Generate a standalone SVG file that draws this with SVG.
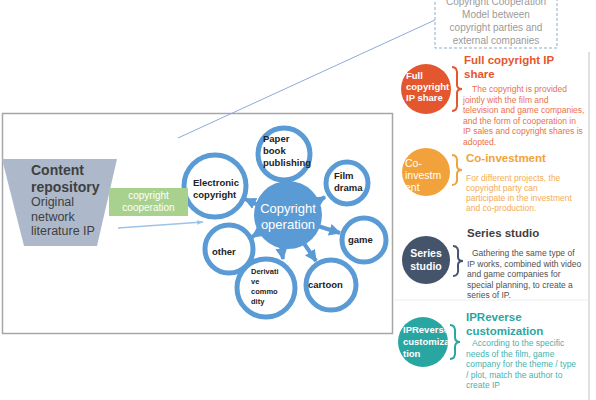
<svg xmlns="http://www.w3.org/2000/svg" width="596" height="400" viewBox="0 0 596 400">
<defs>
<style>
text{font-family:"Liberation Sans","Noto Sans",Arial,sans-serif}
.ring{fill:#fff;stroke:#5b9bd5;stroke-width:5}
.rt{font-size:9.5px;font-weight:bold;fill:#222}
.arr{stroke:#5b9bd5;stroke-width:4;fill:none;marker-end:url(#ah)}
.ct{fill:#fff;font-weight:bold;font-size:9.5px}
.body{font-size:8.5px}
.ttl{font-size:11.5px;font-weight:bold}
</style>
<marker id="ah" viewBox="0 0 10 10" refX="9" refY="5" markerWidth="3" markerHeight="3" orient="auto">
<path d="M0,0L10,5L0,10Z" fill="#5b9bd5"/>
</marker>
<marker id="ah2" viewBox="0 0 10 10" refX="9" refY="5" markerWidth="5" markerHeight="5" orient="auto">
<path d="M0,1.5L10,5L0,8.5Z" fill="#9dc3e6"/>
</marker>
<clipPath id="c1"><circle cx="426" cy="89" r="25"/></clipPath>
<clipPath id="c2"><circle cx="426" cy="172" r="24"/></clipPath>
<clipPath id="c4"><circle cx="423" cy="342" r="25"/></clipPath>
</defs>
<rect width="596" height="400" fill="#fff"/>

<!-- page decoration lines -->
<line x1="589" y1="52" x2="589" y2="400" stroke="#d6d6d6" stroke-width="1.5"/>
<line x1="394" y1="300" x2="589" y2="300" stroke="#ececec" stroke-width="1"/>

<!-- main frame -->
<rect x="2.5" y="113.5" width="390" height="220" fill="#fff" stroke="#a6a6a6" stroke-width="1.5"/>

<g id="connectors">
<line x1="178" y1="138" x2="435" y2="20" stroke="#8eaadb" stroke-width="1"/>
<line x1="118" y1="228" x2="203" y2="222" stroke="#9dc3e6" stroke-width="1.3" marker-end="url(#ah2)"/>
<line class="arr" x1="258" y1="205" x2="245" y2="199"/>
<line class="arr" x1="290" y1="192" x2="290" y2="181"/>
<line class="arr" x1="313" y1="204" x2="325" y2="197"/>
<line class="arr" x1="318" y1="226" x2="340" y2="233"/>
<line class="arr" x1="303" y1="242" x2="316" y2="261"/>
<line class="arr" x1="281" y1="246" x2="283" y2="259"/>
<line class="arr" x1="261" y1="231" x2="252" y2="237"/>
</g>

<g id="model-box">
<rect x="435" y="-5" width="122" height="53" fill="#fff" stroke="#8ea9c8" stroke-width="1" stroke-dasharray="3,2"/>
<g font-size="10" fill="#9a9a9a" text-anchor="middle">
<text x="496" y="5">Copyright Cooperation</text>
<text x="496" y="18">Model between</text>
<text x="496" y="31">copyright parties and</text>
<text x="496" y="44">external companies</text>
</g>
</g>

<g id="content-repository">
<path d="M2,159L117,159L97,246L24,246Z" fill="#adb9ca"/>
<g fill="#404040">
<text x="31" y="175" font-size="14" font-weight="bold">Content</text>
<text x="31" y="192" font-size="14" font-weight="bold">repository</text>
<text x="31" y="206" font-size="12.5">Original</text>
<text x="31" y="221" font-size="12.5">network</text>
<text x="31" y="235" font-size="12.5">literature IP</text>
</g>
</g>

<g id="copyright-operation">
<circle cx="288" cy="215" r="34" fill="#5b9bd5"/>
<text x="288" y="213" font-size="13" fill="#fff" text-anchor="middle">Copyright</text>
<text x="288" y="229" font-size="13" fill="#fff" text-anchor="middle">operation</text>
</g>

<g id="electronic-copyright">
<circle class="ring" cx="215" cy="186" r="31"/>
<text class="rt" x="193" y="186">Electronic</text>
<text class="rt" x="193" y="198">copyright</text>
</g>

<g id="copyright-cooperation">
<rect x="109" y="188" width="79" height="28" fill="#a9d18e"/>
<text x="148.5" y="199" font-size="10" fill="#fff" text-anchor="middle">copyright</text>
<text x="148.5" y="211" font-size="10" fill="#fff" text-anchor="middle">cooperation</text>
</g>

<g id="paper-book">
<circle class="ring" cx="284" cy="154" r="26"/>
<text class="rt" x="263" y="142">Paper</text>
<text class="rt" x="263" y="154">book</text>
<text class="rt" x="263" y="166">publishing</text>
</g>

<g id="film-drama">
<circle class="ring" cx="347" cy="183" r="21"/>
<text class="rt" x="334" y="179">Film</text>
<text class="rt" x="334" y="191">drama</text>
</g>

<g id="game">
<circle class="ring" cx="364" cy="240" r="22"/>
<text class="rt" x="348" y="243">game</text>
</g>

<g id="cartoon">
<circle class="ring" cx="331" cy="285" r="25"/>
<text class="rt" x="308" y="288">cartoon</text>
</g>

<g id="derivative-commodity">
<circle class="ring" cx="266" cy="288" r="29"/>
<g font-size="7.5" font-weight="bold" fill="#222">
<text x="251" y="274">Derivati</text>
<text x="251" y="284">ve</text>
<text x="251" y="294">commo</text>
<text x="251" y="304">dity</text>
</g>
</g>

<g id="other">
<circle class="ring" cx="229" cy="249" r="24"/>
<text class="rt" x="212" y="255">other</text>
</g>

<g id="full-copyright">
<circle cx="426" cy="89" r="25" fill="#e4572e"/>
<g clip-path="url(#c1)">
<text class="ct" x="406" y="79">Full</text>
<text class="ct" x="406" y="90">copyright</text>
<text class="ct" x="406" y="101">IP share</text>
</g>
<path d="M452,67Q458,67 457,76L457,85Q457,89 462,89Q457,89 457,93L457,102Q458,111 452,111" fill="none" stroke="#e4572e" stroke-width="2"/>
<text class="ttl" x="464" y="64" fill="#e4572e">Full copyright IP</text>
<text class="ttl" x="464" y="78" fill="#e4572e">share</text>
<g class="body" fill="#ea6f4c">
<text x="472" y="92">The copyright is provided</text>
<text x="463" y="102.5">jointly with the film and</text>
<text x="463" y="113">television and game companies,</text>
<text x="463" y="123.5">and the form of cooperation in</text>
<text x="463" y="134">IP sales and copyright shares is</text>
<text x="463" y="144.5">adopted.</text>
</g>
</g>

<g id="co-investment">
<circle cx="426" cy="172" r="24" fill="#f2a23a"/>
<g clip-path="url(#c2)" fill="#fff" font-size="10.5">
<text x="405" y="167">Co-</text>
<text x="405" y="179">investm</text>
<text x="405" y="191">ent</text>
</g>
<path d="M452,155Q458,155 457,163L457,166Q457,170 462,170Q457,170 457,174L457,177Q458,185 452,185" fill="none" stroke="#f2a23a" stroke-width="2"/>
<text class="ttl" x="466" y="162" fill="#f2a23a">Co-investment</text>
<g class="body" fill="#f3ad55">
<text x="466" y="181">For different projects, the</text>
<text x="466" y="191">copyright party can</text>
<text x="466" y="201">participate in the investment</text>
<text x="466" y="211">and co-production.</text>
</g>
</g>

<g id="series-studio">
<circle cx="426" cy="260" r="24" fill="#44546a"/>
<text x="426" y="257" font-size="10.5" font-weight="bold" fill="#fff" text-anchor="middle">Series</text>
<text x="426" y="270" font-size="10.5" font-weight="bold" fill="#fff" text-anchor="middle">studio</text>
<path d="M453,246Q459,246 458,254L458,257Q458,261 463,261Q458,261 458,265L458,268Q459,276 453,276" fill="none" stroke="#44546a" stroke-width="2"/>
<text class="ttl" x="467" y="237" fill="#3f3f3f">Series studio</text>
<g class="body" fill="#505050">
<text x="472" y="256">Gathering the same type of</text>
<text x="467" y="266.5">IP works, combined with video</text>
<text x="467" y="277">and game companies for</text>
<text x="467" y="287.5">special planning, to create a</text>
<text x="467" y="298">series of IP.</text>
</g>
</g>

<g id="ip-reverse">
<circle cx="423" cy="342" r="25" fill="#2aa6a2"/>
<g clip-path="url(#c4)">
<text class="ct" x="403" y="333">IPReverse</text>
<text class="ct" x="403" y="345">customiza</text>
<text class="ct" x="403" y="357">tion</text>
</g>
<path d="M450,325Q456,325 455,334L455,337Q455,342 460,342Q455,342 455,347L455,350Q456,359 450,359" fill="none" stroke="#2aa6a2" stroke-width="2"/>
<text class="ttl" x="466" y="321" fill="#2aa6a2">IPReverse</text>
<text class="ttl" x="466" y="335" fill="#2aa6a2">customization</text>
<g class="body" fill="#45b3b0">
<text x="472" y="346">According to the specific</text>
<text x="466" y="356.5">needs of the film, game</text>
<text x="466" y="367">company for the theme / type</text>
<text x="466" y="377.5">/ plot, match the author to</text>
<text x="466" y="388">create IP</text>
</g>
</g>
</svg>
